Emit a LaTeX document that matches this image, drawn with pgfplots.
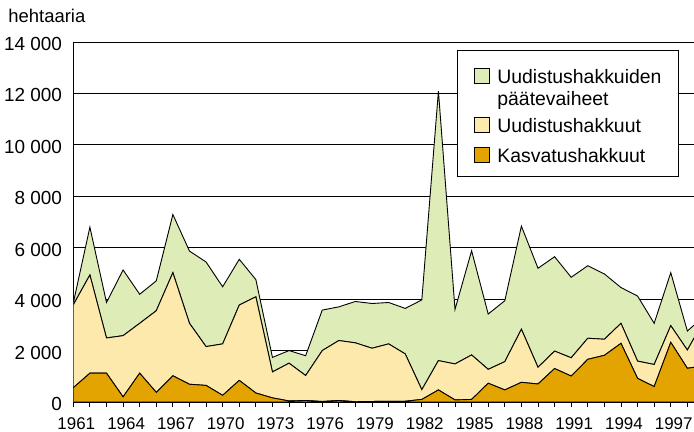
\documentclass[border=0pt]{standalone}
\usepackage{fontspec}
\setmainfont{Liberation Sans}
\usepackage{pgfplots}
\usepackage{pgfplotstable}
\pgfplotsset{compat=1.18}
\definecolor{paate}{RGB}{222,236,183}
\definecolor{uud}{RGB}{253,233,171}
\definecolor{kasv}{RGB}{227,163,0}

% hehtaaria per vuosi, kerrokset pinottuina
\pgfplotstableread{
vuosi kasv uud paate
1961 555 3225 70
1962 1120 3820 1860
1963 1120 1370 1380
1964 200 2380 2555
1965 1120 1940 1130
1966 375 3175 1160
1967 1020 4010 2260
1968 690 2370 2810
1969 645 1510 3290
1970 260 2000 2220
1971 840 2930 1780
1972 350 3740 670
1973 160 1010 565
1974 40 1470 490
1975 60 970 770
1976 20 1980 1575
1977 60 2330 1310
1978 10 2290 1610
1979 20 2070 1740
1980 30 2230 1610
1981 30 1840 1770
1982 100 380 3490
1983 470 1140 10480
1984 80 1400 2120
1985 100 1730 4050
1986 730 540 2150
1987 470 1100 2370
1988 765 2065 4010
1989 700 650 3850
1990 1300 680 3670
1991 1010 710 3130
1992 1660 820 2820
1993 1815 625 2540
1994 2280 780 1390
1995 920 670 2530
1996 600 860 1600
1997 2320 650 2060
1998 1310 710 740
1999 1410 1760 160
}\hakkuut

\begin{document}
\begin{tikzpicture}
\useasboundingbox (-73.3bp,-30bp) rectangle (620.7bp,402bp);
\begin{axis}[
  at={(0,0)}, anchor=south west,
  scale only axis, width=620.7bp, height=360bp,
  xmin=1961, xmax=1998.4, ymin=0, ymax=14000,
  stack plots=y,
  axis lines*=left,
  axis line style={black, line width=0.9bp},
  ymajorgrids, grid style={black, line width=0.8bp},
  scaled y ticks=false,
  ytick={0,2000,...,14000},
  yticklabels={0,2~000,4~000,6~000,8~000,10~000,12~000,14~000},
  ytick style={draw=none},
  yticklabel style={anchor=east, inner sep=0pt, xshift=-6.6bp, yshift=-2bp,
    font=\fontsize{19}{22}\selectfont},
  xtick={1961,1964,...,1997},
  xticklabels={1961,1964,1967,1970,1973,1976,1979,1982,1985,1988,1991,1994,1997},
  minor xtick={1961,...,1999},
  tick align=outside,
  major tick length=4.5bp, minor tick length=4.5bp,
  xtick style={black, line width=0.8bp},
  minor tick style={black, line width=0.8bp},
  xticklabel style={anchor=base, inner sep=0pt, xshift=3bp, yshift=-23bp,
    font=\fontsize{17}{20}\selectfont},
  ylabel={hehtaaria},
  every axis y label/.style={at={(axis description cs:0,1)}, anchor=base west,
    inner sep=0pt, xshift=-65bp, yshift=19bp, font=\fontsize{18.5}{22}\selectfont},
  reverse legend,
  legend style={at={(0.6182,0.9778)}, anchor=north west, draw=black,
    line width=0.9bp, fill=white, inner xsep=17bp, inner ysep=12.5bp,
    row sep=4.65bp, column sep=7bp,
    nodes={inner sep=0pt, font=\fontsize{19.5}{22}\selectfont},
    cells={anchor=base west}},
  patch/.style 2 args={legend image code/.code={%
    \draw[##1] (0bp,0bp) rectangle (15bp,15bp);
    \path[draw=none, fill=none] (0bp,-#1) -- (0bp,#2);}},
]
\addplot[fill=kasv, draw=black, line width=0.9bp, patch={0bp}{15bp}] table[x=vuosi, y=kasv] {\hakkuut} \closedcycle;
\addlegendentry{Kasvatushakkuut}
\addplot[fill=uud, draw=black, line width=0.9bp, patch={9.9bp}{15bp}] table[x=vuosi, y=uud] {\hakkuut} \closedcycle;
\addlegendentry{Uudistushakkuut}
\addplot[fill=paate, draw=black, line width=0.9bp, patch={28.6bp}{20.5bp}] table[x=vuosi, y=paate] {\hakkuut} \closedcycle;
\addlegendentry{\begin{tabular}[t]{@{}l@{}}Uudistushakkuiden\\päätevaiheet\end{tabular}\hspace{-7bp}}
\end{axis}
\end{tikzpicture}
\end{document}
